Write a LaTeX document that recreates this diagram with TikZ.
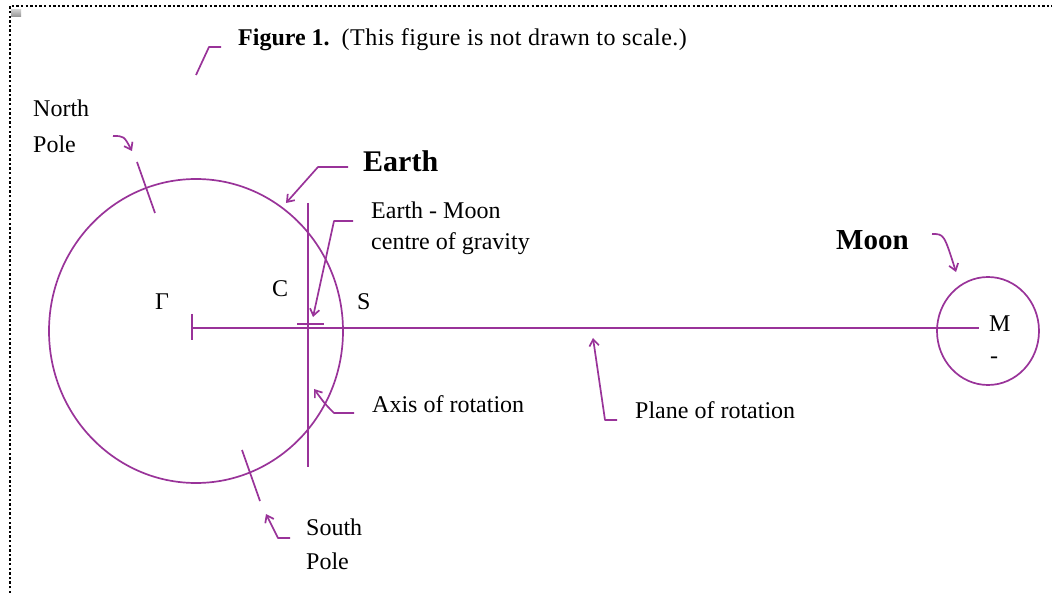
\documentclass[tikz,border=0pt]{standalone}
\usepackage{fontspec}
\setmainfont{Liberation Serif}
\usetikzlibrary{arrows.meta,shapes.geometric}
\definecolor{ink}{RGB}{153,51,153}
\begin{document}
\begin{tikzpicture}[x=1pt,y=-1pt,
  line/.style={draw=ink, line width=1.7pt, line join=round},
  arr/.style={line, -{Straight Barb[length=6.5pt,width=9.5pt,line width=1.7pt]}},
  lbl/.style={inner sep=0pt, anchor=base west, font=\fontsize{24}{34}\selectfont},
  mlbl/.style={inner sep=0pt, anchor=north west, align=left},
  big/.style={inner sep=0pt, anchor=base west, font=\fontsize{30}{36}\selectfont\bfseries},
  body/.style={draw=ink, line width=1.7pt, ellipse, inner sep=0pt}]
\useasboundingbox (0,0) rectangle (1052,593);
\fill[white] (0,0) rectangle (1052,593);
% dotted frame
\draw[line width=2.8pt, dash pattern=on 2.4pt off 2.2pt] (10,593) -- (10,6) -- (1052,6);
\shade[top color=gray!40, bottom color=gray!85] (11,10) rectangle (21,17);

% bodies
\node[body, minimum width=294pt, minimum height=304pt] (earth) at (196,331) {};
\node[body, minimum width=102pt, minimum height=108pt] (moon) at (988,331) {};

% plane of rotation and axis
\coordinate (Pend) at (192,328);
\coordinate (Mend) at (979,328);
\draw[line] (Pend) -- (Mend);
\draw[line] (192,314) -- (192,340);
\coordinate (axtop) at (308,203);
\coordinate (axbot) at (308,467);
\draw[line] (axtop) -- (axbot);
\draw[line] (297,324) -- (324,324);

% pole ticks
\draw[line] (137,162) -- (155,213);
\draw[line] (242,450) -- (260,501);

% labels
\node[lbl] (title) at (238,46) {\textbf{Figure 1.}\hspace{12pt}\addfontfeatures{LetterSpace=2}(This figure is not drawn to scale.)};
\node[mlbl, font=\fontsize{24}{36}\selectfont] (north) at (33,100) {North\\Pole};
\node[big] (earthlbl) at (363,172) {Earth};
\node[mlbl, font=\fontsize{24}{31}\selectfont] (cog) at (371,202) {Earth - Moon\\centre of gravity};
\node[lbl] (C) at (272,297) {C};
\node[lbl] (G) at (155,310) {Γ};
\node[lbl] (S) at (357,310) {S};
\node[big, font=\fontsize{29}{36}\selectfont\bfseries] (moonlbl) at (836,250) {Moon};
\node[lbl] (M) at (989,332) {M};
\node[lbl] (dash) at (990,364) {-};
\node[lbl] (axis) at (372,412) {Axis of rotation};
\node[lbl] (plane) at (635,418) {Plane of rotation};
\node[mlbl, font=\fontsize{24}{34}\selectfont] (south) at (306,519) {South\\Pole};

% pointer lines
\coordinate (f1) at (196,75); \coordinate (f2) at (209,47); \coordinate (f3) at (221,47);
\draw[line] (f1) -- (f2) -- (f3);

\coordinate (n1) at (113,136); \coordinate (n2) at (132,151);
\draw[arr] (n1) .. controls (124,136) .. (n2);

\coordinate (e1) at (348,167); \coordinate (e2) at (318,167); \coordinate (e3) at (286,203);
\draw[arr] (e1) -- (e2) -- (e3);

\coordinate (c1) at (353,221); \coordinate (c2) at (334,221); \coordinate (c3) at (313,317);
\draw[arr] (c1) -- (c2) -- (c3);

\coordinate (a1) at (354,413); \coordinate (a2) at (334,413); \coordinate (a3) at (314,389);
\draw[arr] (a1) -- (a2) .. controls (325,404) .. (a3);

\coordinate (p1) at (617,420); \coordinate (p2) at (605,420); \coordinate (p3) at (593,338);
\draw[arr] (p1) -- (p2) -- (p3);

\coordinate (s1) at (290,538); \coordinate (s2) at (278,538); \coordinate (s3) at (266,514);
\draw[arr] (s1) -- (s2) -- (s3);

\coordinate (m1) at (932,234); \coordinate (m2) at (956,272);
\draw[arr] (m1) .. controls (944,234) .. (m2);
\end{tikzpicture}
\end{document}
